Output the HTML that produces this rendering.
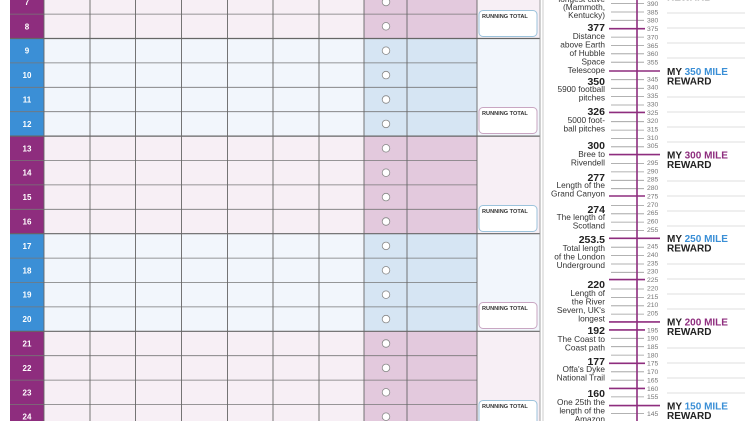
<!DOCTYPE html>
<html><head><meta charset="utf-8"><style>
html,body{margin:0;padding:0;background:#fff;width:750px;height:421px;overflow:hidden}
svg{display:block}
text{font-family:"Liberation Sans",sans-serif}
</style></head><body>
<svg width="750" height="421" viewBox="0 0 750 421">
<!-- group backgrounds -->
<g>
<rect x="10" y="0" width="34" height="38.5" fill="#8e2d7e"/>
<rect x="44" y="0" width="496" height="38.5" fill="#f7eff5"/>
<rect x="364" y="0" width="113" height="38.5" fill="#e3c9dd"/>
<rect x="10" y="38.5" width="34" height="97.6" fill="#3b8fd6"/>
<rect x="44" y="38.5" width="496" height="97.6" fill="#f2f6fc"/>
<rect x="364" y="38.5" width="113" height="97.6" fill="#d6e5f3"/>
<rect x="10" y="136.1" width="34" height="97.6" fill="#8e2d7e"/>
<rect x="44" y="136.1" width="496" height="97.6" fill="#f7eff5"/>
<rect x="364" y="136.1" width="113" height="97.6" fill="#e3c9dd"/>
<rect x="10" y="233.7" width="34" height="97.6" fill="#3b8fd6"/>
<rect x="44" y="233.7" width="496" height="97.6" fill="#f2f6fc"/>
<rect x="364" y="233.7" width="113" height="97.6" fill="#d6e5f3"/>
<rect x="10" y="331.3" width="34" height="97.6" fill="#8e2d7e"/>
<rect x="44" y="331.3" width="496" height="97.6" fill="#f7eff5"/>
<rect x="364" y="331.3" width="113" height="97.6" fill="#e3c9dd"/>
</g>
<!-- horizontal row lines -->
<g stroke="#777" stroke-width="0.8">
<line x1="10" x2="477" y1="14.1" y2="14.1"/>
<line x1="10" x2="477" y1="62.9" y2="62.9"/>
<line x1="10" x2="477" y1="87.3" y2="87.3"/>
<line x1="10" x2="477" y1="111.7" y2="111.7"/>
<line x1="10" x2="477" y1="160.5" y2="160.5"/>
<line x1="10" x2="477" y1="184.9" y2="184.9"/>
<line x1="10" x2="477" y1="209.3" y2="209.3"/>
<line x1="10" x2="477" y1="258.1" y2="258.1"/>
<line x1="10" x2="477" y1="282.5" y2="282.5"/>
<line x1="10" x2="477" y1="306.9" y2="306.9"/>
<line x1="10" x2="477" y1="355.7" y2="355.7"/>
<line x1="10" x2="477" y1="380.1" y2="380.1"/>
<line x1="10" x2="477" y1="404.5" y2="404.5"/>
</g>
<g stroke="#666" stroke-width="1.2">
<line x1="10" x2="540" y1="38.5" y2="38.5"/>
<line x1="10" x2="540" y1="136.1" y2="136.1"/>
<line x1="10" x2="540" y1="233.7" y2="233.7"/>
<line x1="10" x2="540" y1="331.3" y2="331.3"/>
</g>
<!-- vertical lines -->
<g stroke="#666" stroke-width="0.9">
<line x1="44" x2="44" y1="0" y2="421"/>
<line x1="90" x2="90" y1="0" y2="421"/>
<line x1="135.5" x2="135.5" y1="0" y2="421"/>
<line x1="181.5" x2="181.5" y1="0" y2="421"/>
<line x1="227.5" x2="227.5" y1="0" y2="421"/>
<line x1="273" x2="273" y1="0" y2="421"/>
<line x1="319" x2="319" y1="0" y2="421"/>
<line x1="364" x2="364" y1="0" y2="421"/>
<line x1="407" x2="407" y1="0" y2="421"/>
<line x1="477" x2="477" y1="0" y2="421"/>
<line x1="540" x2="540" y1="0" y2="421" stroke="#999"/>
</g>
<line x1="543" x2="543" y1="0" y2="421" stroke="#ccc" stroke-width="1"/>
<!-- row numbers -->
<g fill="#fff" font-size="8" font-weight="bold" text-anchor="middle">
<text x="27" y="5">7</text><text x="27" y="29.3">8</text>
<text x="27" y="53.7">9</text><text x="27" y="78.1">10</text><text x="27" y="102.5">11</text><text x="27" y="126.9">12</text>
<text x="27" y="151.3">13</text><text x="27" y="175.7">14</text><text x="27" y="200.1">15</text><text x="27" y="224.5">16</text>
<text x="27" y="248.9">17</text><text x="27" y="273.3">18</text><text x="27" y="297.7">19</text><text x="27" y="322.1">20</text>
<text x="27" y="346.5">21</text><text x="27" y="370.9">22</text><text x="27" y="395.3">23</text><text x="27" y="419.7">24</text>
</g>
<!-- dots -->
<g fill="#fff" stroke="#888" stroke-width="0.8">
<circle cx="386" cy="2" r="3.8"/><circle cx="386" cy="26.3" r="3.8"/><circle cx="386" cy="50.7" r="3.8"/><circle cx="386" cy="75.1" r="3.8"/>
<circle cx="386" cy="99.5" r="3.8"/><circle cx="386" cy="123.9" r="3.8"/><circle cx="386" cy="148.3" r="3.8"/><circle cx="386" cy="172.7" r="3.8"/>
<circle cx="386" cy="197.1" r="3.8"/><circle cx="386" cy="221.5" r="3.8"/><circle cx="386" cy="245.9" r="3.8"/><circle cx="386" cy="270.3" r="3.8"/>
<circle cx="386" cy="294.7" r="3.8"/><circle cx="386" cy="319.1" r="3.8"/><circle cx="386" cy="343.5" r="3.8"/><circle cx="386" cy="367.9" r="3.8"/>
<circle cx="386" cy="392.3" r="3.8"/><circle cx="386" cy="416.7" r="3.8"/>
</g>
<!-- running total boxes -->
<g fill="#fff" stroke-width="1">
<rect x="479" y="10.5" width="58" height="26" rx="4" stroke="#9cc3dc"/>
<rect x="479" y="107.5" width="58" height="26" rx="4" stroke="#c9a6c2"/>
<rect x="479" y="205.5" width="58" height="26" rx="4" stroke="#9cc3dc"/>
<rect x="479" y="302.5" width="58" height="26" rx="4" stroke="#c9a6c2"/>
<rect x="479" y="400.5" width="58" height="26" rx="4" stroke="#9cc3dc"/>
</g>
<g fill="#333" font-size="5.6" font-weight="bold">
<text x="482" y="18">RUNNING TOTAL</text>
<text x="482" y="115">RUNNING TOTAL</text>
<text x="482" y="213">RUNNING TOTAL</text>
<text x="482" y="310">RUNNING TOTAL</text>
<text x="482" y="408">RUNNING TOTAL</text>
</g>
<!-- ruler ticks -->
<g stroke="#999" stroke-width="0.8">
<line x1="611" x2="644" y1="3.6" y2="3.6"/><line x1="611" x2="644" y1="12" y2="12"/><line x1="611" x2="644" y1="20.3" y2="20.3"/>
<line x1="611" x2="644" y1="37.1" y2="37.1"/><line x1="611" x2="644" y1="45.4" y2="45.4"/><line x1="611" x2="644" y1="53.8" y2="53.8"/><line x1="611" x2="644" y1="62.2" y2="62.2"/>
<line x1="611" x2="644" y1="79.7" y2="79.7"/><line x1="611" x2="644" y1="88.3" y2="88.3"/><line x1="611" x2="644" y1="96.6" y2="96.6"/><line x1="611" x2="644" y1="105" y2="105"/>
<line x1="611" x2="644" y1="121.7" y2="121.7"/><line x1="611" x2="644" y1="130.1" y2="130.1"/><line x1="611" x2="644" y1="138.5" y2="138.5"/><line x1="611" x2="644" y1="146.8" y2="146.8"/>
<line x1="611" x2="644" y1="163.6" y2="163.6"/><line x1="611" x2="644" y1="171.9" y2="171.9"/><line x1="611" x2="644" y1="180.3" y2="180.3"/><line x1="611" x2="644" y1="188.7" y2="188.7"/>
<line x1="611" x2="644" y1="205.4" y2="205.4"/><line x1="611" x2="644" y1="213.8" y2="213.8"/><line x1="611" x2="644" y1="222.1" y2="222.1"/><line x1="611" x2="644" y1="230.5" y2="230.5"/>
<line x1="611" x2="644" y1="247.2" y2="247.2"/><line x1="611" x2="644" y1="255.6" y2="255.6"/><line x1="611" x2="644" y1="264" y2="264"/><line x1="611" x2="644" y1="272.3" y2="272.3"/>
<line x1="611" x2="644" y1="289" y2="289"/><line x1="611" x2="644" y1="297.4" y2="297.4"/><line x1="611" x2="644" y1="305.8" y2="305.8"/><line x1="611" x2="644" y1="314.1" y2="314.1"/>
<line x1="611" x2="644" y1="338.3" y2="338.3"/><line x1="611" x2="644" y1="346.7" y2="346.7"/><line x1="611" x2="644" y1="355.1" y2="355.1"/>
<line x1="611" x2="644" y1="371.8" y2="371.8"/><line x1="611" x2="644" y1="380.2" y2="380.2"/><line x1="611" x2="644" y1="396.9" y2="396.9"/>
<line x1="611" x2="644" y1="413.6" y2="413.6"/>
</g>
<g stroke="#8e2d7e" stroke-width="1.6">
<line x1="609" x2="645" y1="28.7" y2="28.7"/>
<line x1="609" x2="645" y1="112.4" y2="112.4"/>
<line x1="609" x2="645" y1="196" y2="196"/>
<line x1="609" x2="645" y1="279.6" y2="279.6"/>
<line x1="609" x2="645" y1="329.9" y2="329.9"/>
<line x1="609" x2="645" y1="363.3" y2="363.3"/>
<line x1="609" x2="645" y1="388.4" y2="388.4"/>
<line x1="609" x2="660" y1="71" y2="71"/>
<line x1="609" x2="660" y1="154.6" y2="154.6"/>
<line x1="609" x2="660" y1="238.3" y2="238.3"/>
<line x1="609" x2="660" y1="321.9" y2="321.9"/>
<line x1="609" x2="660" y1="405.6" y2="405.6"/>
<line x1="637" x2="637" y1="0" y2="421"/>
</g>
<g fill="#777" font-size="6.8">
<text x="647" y="6">390</text><text x="647" y="14.4">385</text><text x="647" y="22.7">380</text><text x="647" y="31.1">375</text>
<text x="647" y="39.5">370</text><text x="647" y="47.8">365</text><text x="647" y="56.2">360</text><text x="647" y="64.6">355</text>
<text x="647" y="81.3">345</text><text x="647" y="89.7">340</text><text x="647" y="98">335</text><text x="647" y="106.4">330</text><text x="647" y="114.8">325</text>
<text x="647" y="123.1">320</text><text x="647" y="131.5">315</text><text x="647" y="139.9">310</text><text x="647" y="148.2">305</text>
<text x="647" y="165">295</text><text x="647" y="173.3">290</text><text x="647" y="181.7">285</text><text x="647" y="190.1">280</text><text x="647" y="198.4">275</text>
<text x="647" y="206.8">270</text><text x="647" y="215.2">265</text><text x="647" y="223.5">260</text><text x="647" y="231.9">255</text>
<text x="647" y="248.6">245</text><text x="647" y="257">240</text><text x="647" y="265.4">235</text><text x="647" y="273.7">230</text><text x="647" y="282">225</text>
<text x="647" y="290.4">220</text><text x="647" y="298.8">215</text><text x="647" y="307.2">210</text><text x="647" y="315.5">205</text>
<text x="647" y="332.3">195</text><text x="647" y="340.7">190</text><text x="647" y="349">185</text><text x="647" y="357.4">180</text><text x="647" y="365.7">175</text>
<text x="647" y="374.1">170</text><text x="647" y="382.5">165</text><text x="647" y="390.8">160</text><text x="647" y="399.2">155</text><text x="647" y="416">145</text>
</g>
<!-- facts -->
<g fill="#333" font-size="8.3" text-anchor="end">
<text x="605" y="2">longest cave</text><text x="605" y="10">(Mammoth,</text><text x="605" y="18">Kentucky)</text>
<text x="605" y="39">Distance</text><text x="605" y="47.5">above Earth</text><text x="605" y="56">of Hubble</text><text x="605" y="64.5">Space</text><text x="605" y="73">Telescope</text>
<text x="605" y="92">5900 football</text><text x="605" y="100.5">pitches</text>
<text x="605" y="123">5000 foot-</text><text x="605" y="131.5">ball pitches</text>
<text x="605" y="157">Bree to</text><text x="605" y="165.5">Rivendell</text>
<text x="605" y="188">Length of the</text><text x="605" y="196.5">Grand Canyon</text>
<text x="605" y="220">The length of</text><text x="605" y="228.5">Scotland</text>
<text x="605" y="251">Total length</text><text x="605" y="259.5">of the London</text><text x="605" y="268">Underground</text>
<text x="605" y="296">Length of</text><text x="605" y="304.5">the River</text><text x="605" y="313">Severn, UK's</text><text x="605" y="321.5">longest</text>
<text x="605" y="342">The Coast to</text><text x="605" y="350.5">Coast path</text>
<text x="605" y="372">Offa's Dyke</text><text x="605" y="380.5">National Trail</text>
<text x="605" y="405">One 25th the</text><text x="605" y="413.5">length of the</text><text x="605" y="422">Amazon</text>
</g>
<g fill="#222" font-size="10.5" font-weight="bold" text-anchor="end">
<text x="605" y="31">377</text><text x="605" y="85">350</text><text x="605" y="115">326</text><text x="605" y="149">300</text>
<text x="605" y="181">277</text><text x="605" y="213">274</text><text x="605" y="243">253.5</text><text x="605" y="288">220</text>
<text x="605" y="334">192</text><text x="605" y="365">177</text><text x="605" y="397">160</text>
</g>
<!-- right writing lines -->
<g stroke="#d4d4d4" stroke-width="0.8">
<line x1="667" x2="745" y1="13" y2="13"/><line x1="667" x2="745" y1="28" y2="28"/><line x1="667" x2="745" y1="43" y2="43"/><line x1="667" x2="745" y1="58" y2="58"/>
<line x1="667" x2="745" y1="97" y2="97"/><line x1="667" x2="745" y1="112" y2="112"/><line x1="667" x2="745" y1="127" y2="127"/><line x1="667" x2="745" y1="142" y2="142"/>
<line x1="667" x2="745" y1="181" y2="181"/><line x1="667" x2="745" y1="196" y2="196"/><line x1="667" x2="745" y1="211" y2="211"/><line x1="667" x2="745" y1="226" y2="226"/>
<line x1="667" x2="745" y1="264" y2="264"/><line x1="667" x2="745" y1="279" y2="279"/><line x1="667" x2="745" y1="294" y2="294"/><line x1="667" x2="745" y1="309" y2="309"/>
<line x1="667" x2="745" y1="348" y2="348"/><line x1="667" x2="745" y1="363" y2="363"/><line x1="667" x2="745" y1="378" y2="378"/><line x1="667" x2="745" y1="393" y2="393"/>
</g>
<g font-size="10" font-weight="bold" fill="#222">
<text x="667" y="75">MY <tspan fill="#3b8fd6">350 MILE</tspan></text><text x="667" y="84.5">REWARD</text>
<text x="667" y="158.5">MY <tspan fill="#8e2d7e">300 MILE</tspan></text><text x="667" y="168">REWARD</text>
<text x="667" y="242">MY <tspan fill="#3b8fd6">250 MILE</tspan></text><text x="667" y="251.5">REWARD</text>
<text x="667" y="325.5">MY <tspan fill="#8e2d7e">200 MILE</tspan></text><text x="667" y="335">REWARD</text>
<text x="667" y="409.5">MY <tspan fill="#3b8fd6">150 MILE</tspan></text><text x="667" y="419">REWARD</text>
<text x="667" y="1" fill="#ccc">REWARD</text>
</g>
</svg>
</body></html>
